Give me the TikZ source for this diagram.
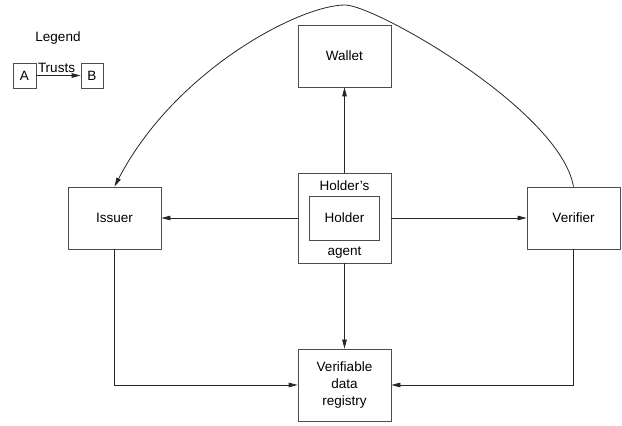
\documentclass[tikz,border=0pt]{standalone}
\usepackage{fontspec}
\setmainfont{Liberation Sans}
\usetikzlibrary{positioning, arrows.meta}

\begin{document}
\begin{tikzpicture}[x=1pt,y=1pt,on grid,node distance=160pt,
    font=\fontsize{13.5}{17}\selectfont,
    party/.style={draw=black!70,line width=0.8pt,fill=white,minimum width=93pt,minimum height=62pt,align=center},
    small/.style={draw=black!70,line width=0.8pt,minimum width=23pt,minimum height=25pt,inner sep=0pt}]
\useasboundingbox (0,0) rectangle (622,426);
\tikzset{trust/.style={line width=0.8pt,draw=black!85,-{Triangle[length=9pt,width=4.6pt]}}}
% curve goes under the boxes
\coordinate (top) at (345,421);
\node[party]          (agent)  at (344.5,208) [minimum height=90pt] {};
\node[party]          (holder) at (agent) [minimum width=70pt,minimum height=44pt] {Holder};
\node                 (owner)  at ([yshift=-13pt]agent.north) {Holder’s};
\node                 (agtxt)  at ([yshift=11pt]agent.south) {agent};
\node[party]          (wallet)   [above=162pt of agent] {Wallet};
\node[party]          (registry) [below=167pt of agent, minimum height=72pt] {Verifiable\\data\\registry};
\node[party]          (issuer)   [left=230pt of agent]  {Issuer};
\node[party]          (verifier) [right=229pt of agent] {Verifier};
% legend
\node                 (legend) at (58,388) {Legend};
\node[small]          (A) at (24.5,350.5)  {A};
\node[small]          (B) [right=67.5pt of A, minimum width=22pt] {B};
\draw[trust] (A) -- node[above,inner sep=2pt,xshift=-2pt] {Trusts} (B);
\draw[trust] (verifier.north) .. controls (560,316) and (375,421) .. (top)
             .. controls (300,421) and (175,356) .. (issuer.north);
\path (agent)    edge [trust] (wallet)
      (agent)    edge [trust] (issuer)
      (agent)    edge [trust] (verifier)
      (agent)    edge [trust] (registry);
\draw[trust] (issuer) |- (registry);
\draw[trust] (verifier) |- (registry);
\end{tikzpicture}
\end{document}
